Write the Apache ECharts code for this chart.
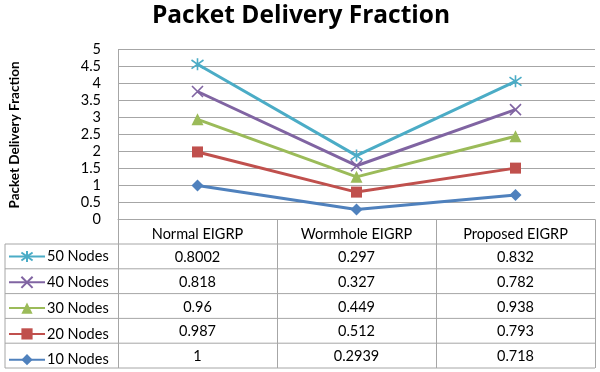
<!DOCTYPE html>
<html>
<head>
<meta charset="utf-8">
<script src="https://cdn.jsdelivr.net/npm/echarts@6/dist/echarts.min.js"></script>
<style>html,body{margin:0;padding:0;background:#fff}#c{width:600px;height:372px}</style>
</head>
<body>
<div id="c"></div>
<script>
var categories = ['Normal EIGRP', 'Wormhole EIGRP', 'Proposed EIGRP'];
var seriesNames = ['10 Nodes', '20 Nodes', '30 Nodes', '40 Nodes', '50 Nodes'];
var nodes10 = [1, 0.2939, 0.718];
var nodes20 = [0.987, 0.512, 0.793];
var nodes30 = [0.96, 0.449, 0.938];
var nodes40 = [0.818, 0.327, 0.782];
var nodes50 = [0.8002, 0.297, 0.832];
var yTicks = [0, 0.5, 1, 1.5, 2, 2.5, 3, 3.5, 4, 4.5, 5];

var values = [nodes10, nodes20, nodes30, nodes40, nodes50];
var colors = ['#4F81BD', '#C0504D', '#9BBB59', '#8064A2', '#4BACC6'];
var symbols = ['diamond', 'rect', 'triangle',
  'path://M0,0L10,10M10,0L0,10',
  'path://M0,0L10,10M10,0L0,10M5,-2L5,12'];
var symbolSizes = [12, 11, 12, 11, 12];

var FONT = 'Lato';
var chart = echarts.init(document.getElementById('c'));

var gridLeft = 118, gridRight = 595, gridTop = 49.5, gridBottom = 219.5;
var rowTop = 244, rowH = 24.8;

var series = values.map(function (v, i) {
  return {
    name: seriesNames[i],
    type: 'line',
    stack: 'total',
    data: v,
    symbol: symbols[i],
    symbolSize: symbolSizes[i],
    showSymbol: true,
    lineStyle: { color: colors[i], width: 3 },
    itemStyle: { color: colors[i], borderColor: colors[i], borderWidth: i >= 3 ? 1.6 : 0 },
    z: 3 + i
  };
});

var graphics = [];
graphics.push({
  type: 'text', x: 15, y: 135, rotation: Math.PI / 2,
  style: { text: 'Packet Delivery Fraction', font: 'bold 13.5px ' + FONT, fill: '#000', textAlign: 'center', textVerticalAlign: 'middle' }
});
var legendOrder = [4, 3, 2, 1, 0];
for (var r = 0; r <= legendOrder.length; r++) {
  graphics.push({
    type: 'line', shape: { x1: 5, y1: rowTop + r * rowH, x2: gridRight, y2: rowTop + r * rowH },
    style: { stroke: '#a6a6a6', lineWidth: 1 }
  });
}
graphics.push({
  type: 'line', shape: { x1: 5, y1: rowTop, x2: 5, y2: rowTop + legendOrder.length * rowH },
  style: { stroke: '#a6a6a6', lineWidth: 1 }
});
var colW = (gridRight - gridLeft) / categories.length;
legendOrder.forEach(function (si, r) {
  values[si].forEach(function (val, c) {
    graphics.push({
      type: 'text', x: gridLeft + colW * (c + 0.5), y: rowTop + rowH * (r + 0.5) + 1,
      style: { text: String(val), font: '14.5px ' + FONT, fill: '#000', textAlign: 'center', textVerticalAlign: 'middle' }
    });
  });
});

chart.setOption({
  animation: false,
  title: {
    text: 'Packet Delivery Fraction', left: 296, top: -1, textAlign: 'center',
    textStyle: { fontFamily: 'Open Sans', fontWeight: 'bold', fontSize: 24.5, color: '#000' }
  },
  grid: { left: gridLeft, right: 600 - gridRight, top: gridTop, bottom: 372 - gridBottom },
  legend: {
    orient: 'vertical', left: 8, top: rowTop + 5, height: 140, width: 110,
    data: legendOrder.map(function (i) { return seriesNames[i]; }),
    itemWidth: 36, itemHeight: 14, itemGap: 10.8, padding: 0,
    textStyle: { fontFamily: FONT, fontSize: 14.5, color: '#000', padding: [0, 0, 0, -3], lineHeight: 14 },
    selectedMode: false
  },
  xAxis: {
    type: 'category', data: categories, boundaryGap: true,
    axisLine: { lineStyle: { color: '#a6a6a6' } },
    axisTick: { show: true, length: 148.5, inside: false, lineStyle: { color: '#a6a6a6' } },
    axisLabel: { fontFamily: FONT, fontSize: 14.5, color: '#000', margin: 7 }
  },
  yAxis: {
    type: 'value', min: yTicks[0], max: yTicks[yTicks.length - 1], interval: 0.5,
    axisLine: { show: true, lineStyle: { color: '#a6a6a6' } },
    axisTick: { show: false },
    axisLabel: { fontFamily: FONT, fontSize: 14.5, color: '#000', margin: 17 },
    splitLine: { lineStyle: { color: '#a6a6a6' } }
  },
  series: series,
  graphic: graphics
});
</script>
</body>
</html>
